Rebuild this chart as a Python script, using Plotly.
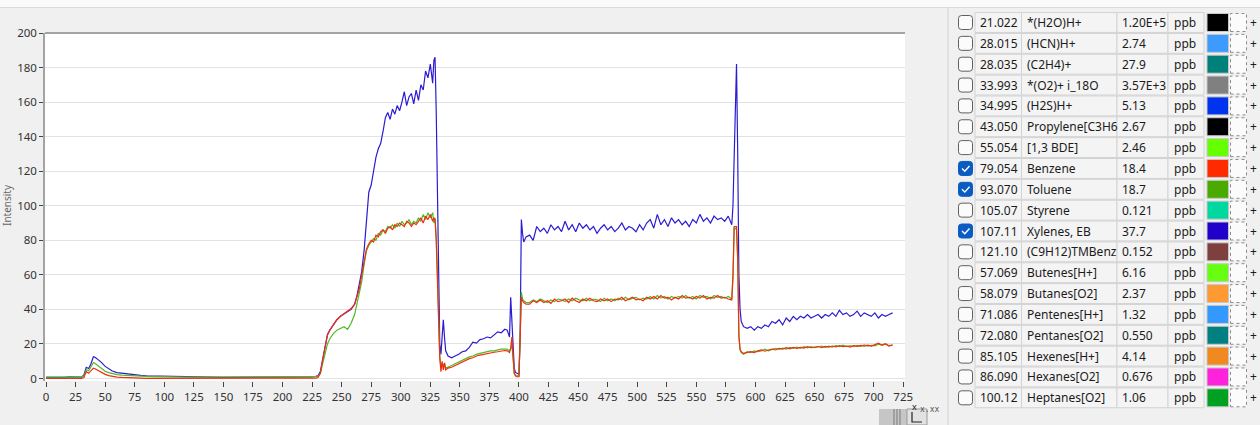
import plotly.graph_objects as go

W, H = 1260, 425
FONT = "Noto Sans"

# ---- trace data ----
time_s = [
    0, 5, 10, 15, 20, 25, 30, 32, 33, 34, 36, 38, 40, 41, 43, 45, 47, 50, 53, 56,
    60, 64, 68, 72, 76, 80, 85, 90, 95, 100, 105, 110, 120, 130, 140, 150, 160, 170,
    180, 190, 200, 205, 210, 215, 220, 225,
    228, 230, 232, 234, 236, 238, 240, 243, 246, 249, 252, 255, 258, 261,
    263, 265, 267, 269, 271, 273, 275, 277, 279, 281, 283, 285, 287, 289, 291, 293,
    295, 297, 299, 301, 303, 305, 307, 309, 311, 313, 315, 317, 319, 321, 323, 325,
    327, 328, 329, 330, 331, 332,
    333, 334, 335, 336, 337, 338, 340, 343, 346, 349, 352, 355, 358, 361, 364, 367,
    370, 373, 376, 379, 382, 385, 388, 390, 392, 393, 394, 395, 396, 397, 398, 400,
    401, 402, 403, 404, 406,
    409, 412, 415, 418, 421, 424, 427, 430, 433, 436, 439, 442, 445, 448, 451, 454,
    457, 460, 463, 466, 469, 472, 475, 478, 481, 484, 487, 490, 493, 496, 499, 502,
    505, 508, 511, 514, 517, 520, 523, 526, 529, 532, 535, 538, 541, 544, 547, 550,
    553, 556, 559, 562, 565, 568, 571, 574, 577, 580,
    581, 582, 583, 584, 585, 586, 587, 588, 590,
    593, 596, 599, 602, 605, 608, 611, 614, 617, 620, 623, 626, 629, 632, 635, 638,
    641, 644, 647, 650, 653, 656, 659, 662, 665, 668, 671, 674, 677, 680, 683, 686,
    689, 692, 695, 698, 701, 704, 707, 710, 713, 716,
]

xylenes_ppb = [
    0.6, 0.5, 0.7, 0.6, 0.9, 0.7, 0.8,
    2.0, 4.8, 6.5, 5.8, 8.5,
    12.6, 12.4, 11.5, 10.6, 9.2,
    7.0, 5.6, 4.3,
    3.4, 3.0, 2.6, 2.3, 2.0,
    1.8, 1.6, 1.5, 1.3,
    1.3, 1.1, 1.0,
    0.9, 0.8, 0.8, 0.7, 0.7, 0.7, 0.7, 0.8,
    0.9, 0.8, 1.0, 0.9, 1.1, 0.9,
    1.2, 1.6, 4.0, 12.0, 20.0, 25.5, 28.0,
    31.0, 34.0, 36.0, 37.5, 38.5, 40.0, 43.0,
    48, 55, 62, 74, 92, 108, 112, 121, 128, 133, 136, 143, 151, 154, 150, 156, 153,
    158, 155, 160, 166, 158, 163, 165, 159, 167, 161, 170, 167, 178, 174, 182, 171,
    184, 186, 155, 110, 42,
    20, 14, 22, 34, 24, 16, 13,
    12, 13, 14, 15.5, 16, 18, 21, 20.5, 22.5, 23, 24, 23.5, 25.5, 27, 26.5, 28.5,
    28, 24, 47, 30, 22, 6, 3.5, 3,
    2.5, 25, 92, 84, 79, 82,
    83, 80, 88, 85, 87, 84, 89, 86, 88, 85,
    91, 86, 89, 85, 90, 87, 89, 86, 88, 84,
    87, 89, 86, 88, 85, 87, 90, 86, 88, 87,
    85, 89, 86, 90, 92, 87, 95, 89, 92, 88,
    93, 90, 92, 89, 91, 88, 92, 90, 95, 91,
    93, 90, 94, 92, 93, 91, 94, 89,
    100, 128, 160, 182, 130, 60, 40, 33, 30,
    29, 30, 28, 30, 29, 31, 30, 33, 32, 34,
    31, 35, 33, 36, 34, 36, 35, 37, 35, 36,
    37, 35, 37, 36, 38, 36, 39.5, 37, 38, 36,
    37, 39, 36, 38, 37, 36, 38, 35, 37, 36,
    37, 38,
]

toluene_ppb = [
    0.8, 0.7, 0.9, 0.8, 0.8, 0.9, 0.8,
    1.5, 3.5, 5.0, 4.5, 6.5,
    9.2, 9.0, 8.0, 6.8, 5.8,
    4.2, 3.4, 2.7,
    2.2, 1.9, 1.7, 1.5, 1.4,
    1.3, 1.2, 1.1, 1.0,
    1.0, 0.9, 0.9,
    0.8, 0.8, 0.8, 0.8, 0.8, 0.8, 0.8, 0.9,
    1.0, 1.0, 1.1, 1.0, 1.2, 1.1,
    1.0, 1.2, 3.0, 8.5, 15.0, 20.0, 23.0,
    26.0, 28.0, 29.0, 30.0, 28.5, 32.0, 37.0,
    44, 50, 56, 66, 74, 77, 79, 81, 80, 84, 83, 86, 85, 88, 87, 89, 87,
    90, 88, 91, 89, 90, 92, 89, 91, 90, 93, 91, 95, 92, 96, 93, 96,
    90, 93, 82, 60, 35,
    13, 6, 9, 7, 9, 6, 6.5,
    7.5, 8.5, 9.5, 10.5, 11.5, 12.5, 13, 14, 14.5, 15, 15.5, 16, 16, 16.5, 17, 17,
    17, 16, 17, 20, 12, 3, 2, 1.5,
    1.5, 28, 50, 46, 45, 44,
    44, 45.5, 44.5, 46, 45, 44, 45.5, 44.5, 46, 45.5,
    44.5, 46, 45, 46.5, 45.5, 45, 46.5, 45, 46, 45.5,
    44.5, 46.5, 45, 46, 45, 46.5, 45.5, 47, 45.5, 46.5,
    47, 45.5, 46.5, 46, 47.5, 46, 48, 46.5, 47.5, 46,
    47.5, 46.5, 47.5, 46.5, 48, 46.5, 47.5, 46, 48, 47,
    47.5, 46, 48, 47, 47.5, 46.5, 47.5, 46,
    58, 87, 87, 86, 68, 24, 16.5, 15, 14,
    15.5, 15, 16, 15.5, 16, 17, 16, 16.8, 17.5, 16.8,
    17.6, 17, 18, 17.4, 18.2, 17.6, 18.4, 17.8, 18.5, 17.9,
    18.2, 18.8, 18, 18.7, 18.2, 19, 18.4, 19.3, 18.5, 19,
    18.4, 19.2, 18.6, 19.4, 18.8, 19.2, 18.9, 19.8, 19.5, 20.2,
    19, 19.5,
]

benzene_ppb = [
    0.0, 0.0, 0.1, 0.0, 0.1, 0.0, 0.1,
    0.5, 2.5, 4.0, 3.0, 4.8,
    6.0, 5.8, 5.0, 4.2, 3.4,
    2.4, 1.7, 1.2,
    0.8, 0.6, 0.4, 0.3, 0.2,
    0.2, 0.1, 0.1, 0.1,
    0.1, 0.0, 0.0,
    0.0, 0.0, 0.0, 0.0, 0.0, 0.0, 0.0, 0.0,
    0.0, 0.0, 0.0, 0.1, 0.1, 0.1,
    0.2, 0.6, 3.0, 11.0, 19.0, 25.0, 28.0,
    31.0, 34.0, 36.0, 37.5, 39.0, 40.5, 43.0,
    47, 52, 60, 68, 75, 78, 80, 79, 83, 82, 85, 86, 84, 87, 88, 86, 89,
    88, 90, 89, 88, 91, 90, 88, 90, 89, 91, 93, 90, 94, 92, 95, 91,
    93, 92, 80, 58, 33,
    12, 4, 10, 5, 9, 5, 6,
    6.5, 7.5, 8.5, 9.5, 10.5, 11.5, 12, 13, 13.5, 14, 14.5, 15, 15.2, 15.5, 16, 16.2,
    16, 15, 18, 24, 13, 3, 1.5, 1,
    1, 26, 47, 45, 44, 43,
    43, 45, 44, 45.5, 44, 45, 43.5, 46, 44.5, 45,
    46, 44, 46.5, 45, 44, 46, 45, 46.5, 45, 44.5,
    46, 45, 46, 44.5, 46, 45.5, 47, 45, 46, 47,
    45.5, 46, 45, 47, 46, 47.5, 46, 48, 46.5, 47,
    45.5, 47, 46, 48, 46.5, 47, 46, 47.5, 46.5, 48,
    46, 47, 46.5, 48, 46.5, 47, 46, 45.5,
    60, 88, 88, 88, 70, 25, 17, 15.5, 14.5,
    15, 15.5, 15, 16, 16.5, 15.8, 16.5, 17, 16.5, 17.5,
    17, 17.8, 17.2, 18, 17.5, 18, 17.6, 18.4, 17.8, 18.2,
    18.5, 17.9, 18.6, 18.2, 18.8, 18.3, 19, 18.5, 18.8, 18.2,
    19, 18.6, 19.2, 18.7, 19.3, 18.8, 19.5, 20.5, 19.2, 20,
    18.8, 19.4,
]

for series in (xylenes_ppb, toluene_ppb, benzene_ppb):
    assert len(series) == len(time_s), (len(series), len(time_s))

# ---- compound table (right panel) ----
masses = ["21.022", "28.015", "28.035", "33.993", "34.995", "43.050", "55.054",
          "79.054", "93.070", "105.07", "107.11", "121.10", "57.069", "58.079",
          "71.086", "72.080", "85.105", "86.090", "100.12"]
names = ["*(H2O)H+", "(HCN)H+", "(C2H4)+", "*(O2)+ i_18O", "(H2S)H+", "Propylene[C3H6",
         "[1,3 BDE]", "Benzene", "Toluene", "Styrene", "Xylenes, EB", "(C9H12)TMBenz",
         "Butenes[H+]", "Butanes[O2]", "Pentenes[H+]", "Pentanes[O2]", "Hexenes[H+]",
         "Hexanes[O2]", "Heptanes[O2]"]
conc = ["1.20E+5", "2.74", "27.9", "3.57E+3", "5.13", "2.67", "2.46", "18.4", "18.7",
        "0.121", "37.7", "0.152", "6.16", "2.37", "1.32", "0.550", "4.14", "0.676", "1.06"]
units = ["ppb"] * 19
checked = [False, False, False, False, False, False, False, True, True, False, True,
           False, False, False, False, False, False, False, False]
swatches = ["#000000", "#3d9bff", "#00807a", "#808080", "#0033ee", "#000000", "#66ff00",
            "#ff2a00", "#4aaa00", "#00d8a0", "#2200cc", "#7f3f3f", "#66ff11", "#ff9933",
            "#3399ff", "#008080", "#f08a20", "#ff22dd", "#00a020"]


def px(x):
    return x / W


def py(y):
    return 1 - y / H


def rounded_box(x0, y0, x1, y1, r):
    return (f"M{px(x0 + r)},{py(y0)} L{px(x1 - r)},{py(y0)} Q{px(x1)},{py(y0)} {px(x1)},{py(y0 + r)} "
            f"L{px(x1)},{py(y1 - r)} Q{px(x1)},{py(y1)} {px(x1 - r)},{py(y1)} "
            f"L{px(x0 + r)},{py(y1)} Q{px(x0)},{py(y1)} {px(x0)},{py(y1 - r)} "
            f"L{px(x0)},{py(y0 + r)} Q{px(x0)},{py(y0)} {px(x0 + r)},{py(y0)} Z")


fig = go.Figure()
fig.add_trace(go.Scatter(x=time_s, y=xylenes_ppb, mode="lines", name="Xylenes, EB",
                         line=dict(color="#2b1bd1", width=1.2)))
fig.add_trace(go.Scatter(x=time_s, y=toluene_ppb, mode="lines", name="Toluene",
                         line=dict(color="#4dbb22", width=1.2)))
fig.add_trace(go.Scatter(x=time_s, y=benzene_ppb, mode="lines", name="Benzene",
                         line=dict(color="#f42c10", width=1.2)))

shapes = []
annotations = []

# window chrome
shapes.append(dict(type="rect", xref="paper", yref="paper", x0=0, x1=1, y0=py(7), y1=1,
                   fillcolor="#fafafa", line=dict(width=0), layer="below"))
shapes.append(dict(type="line", xref="paper", yref="paper", x0=0, x1=1, y0=py(7.5), y1=py(7.5),
                   line=dict(color="#dadada", width=1)))
shapes.append(dict(type="line", xref="paper", yref="paper", x0=px(45), x1=px(905),
                   y0=py(33), y1=py(33), line=dict(color="#a3a3a3", width=2)))
shapes.append(dict(type="line", xref="paper", yref="paper", x0=px(948), x1=px(948),
                   y0=py(8), y1=0, line=dict(color="#d2d2d2", width=1)))

# small toolbar bits bottom-right of the plot
shapes.append(dict(type="rect", xref="paper", yref="paper", x0=px(879), x1=px(907),
                   y0=py(425), y1=py(409), fillcolor="#c6c6c6", line=dict(width=0)))
for lx in (894, 897, 900):
    shapes.append(dict(type="line", xref="paper", yref="paper", x0=px(lx), x1=px(lx),
                       y0=py(425), y1=py(409), line=dict(color="#7a7a7a", width=1)))
shapes.append(dict(type="rect", xref="paper", yref="paper", x0=px(907), x1=px(927),
                   y0=py(425), y1=py(409), fillcolor="#e2e2e2", line=dict(color="#9a9a9a", width=1)))
shapes.append(dict(type="path", xref="paper", yref="paper",
                   path=f"M{px(912)},{py(412)} L{px(912)},{py(422)} L{px(922)},{py(422)}",
                   line=dict(color="#222", width=1.2)))
annotations.append(dict(x=px(919), y=py(415), xref="paper", yref="paper", text="x",
                        showarrow=False, font=dict(family=FONT, size=9, color="#222")))
annotations.append(dict(x=px(941), y=py(416), xref="paper", yref="paper", text="x.xx",
                        showarrow=False, font=dict(family="DejaVu Sans Mono", size=8, color="#555")))

# y-axis title (only a sliver is visible in the original window)
annotations.append(dict(x=px(7), y=py(205), xref="paper", yref="paper", text="Intensity",
                        textangle=-90, showarrow=False, xanchor="center", yanchor="middle",
                        font=dict(family=FONT, size=10, color="#666")))

# table rows
ROW0, ROWH = 22.5, 20.85
cells = [(975, 1021.5), (1021.5, 1117), (1117, 1168), (1168, 1204)]
for i in range(len(masses)):
    cy = ROW0 + i * ROWH
    top, bot = cy - ROWH / 2 + 0.5, cy + ROWH / 2 - 0.5
    for x0, x1 in cells:
        shapes.append(dict(type="rect", xref="paper", yref="paper", x0=px(x0), x1=px(x1),
                           y0=py(bot), y1=py(top), fillcolor="#f4f4f4",
                           line=dict(color="#d3d3d3", width=1)))
    # checkbox
    if checked[i]:
        shapes.append(dict(type="path", xref="paper", yref="paper",
                           path=rounded_box(958.5, cy - 7, 972.5, cy + 7, 3),
                           fillcolor="#0a5cc2", line=dict(color="#0a5cc2", width=1)))
        shapes.append(dict(type="path", xref="paper", yref="paper",
                           path=f"M{px(962)},{py(cy)} L{px(964.8)},{py(cy + 2.8)} L{px(969.5)},{py(cy - 2.5)}",
                           line=dict(color="white", width=1.4)))
    else:
        shapes.append(dict(type="path", xref="paper", yref="paper",
                           path=rounded_box(958.5, cy - 7, 972.5, cy + 7, 3),
                           fillcolor="#fbfbfb", line=dict(color="#5f5f5f", width=1)))
    # colour swatch + dotted marker box
    shapes.append(dict(type="rect", xref="paper", yref="paper", x0=px(1207), x1=px(1228.5),
                       y0=py(cy + 9), y1=py(cy - 9), fillcolor=swatches[i],
                       line=dict(color="#c8c8c8", width=1)))
    shapes.append(dict(type="rect", xref="paper", yref="paper", x0=px(1230.5), x1=px(1246.5),
                       y0=py(cy + 9), y1=py(cy - 9), fillcolor="#fbfbfb",
                       line=dict(color="#8a8a8a", width=1, dash="dot")))
    for text, x in ((masses[i], 978), (names[i], 1024.5), (conc[i], 1119.5), (units[i], 1172)):
        annotations.append(dict(x=px(x), y=py(cy), xref="paper", yref="paper", text=text,
                                showarrow=False, xanchor="left", yanchor="middle",
                                font=dict(family=FONT, size=12, color="#1b1b1b")))
    annotations.append(dict(x=px(1248), y=py(cy), xref="paper", yref="paper", text="+",
                            showarrow=False, xanchor="left", yanchor="middle",
                            font=dict(family=FONT, size=12, color="#1b1b1b")))

fig.update_layout(
    width=W,
    height=H,
    margin=dict(l=0, r=0, t=0, b=0, autoexpand=False),
    paper_bgcolor="#f0f0f0",
    plot_bgcolor="white",
    showlegend=False,
    xaxis=dict(
        domain=[px(45), px(905)],
        range=[-0.9, 726.5],
        tick0=0,
        dtick=25,
        ticks="outside",
        ticklen=5,
        tickcolor="#444",
        showgrid=False,
        zeroline=False,
        showline=False,
        automargin=False,
        tickfont=dict(family=FONT, size=11.5, color="#333"),
    ),
    yaxis=dict(
        domain=[py(381), py(32.5)],
        range=[-1.45, 200.3],
        tick0=0,
        dtick=20,
        ticks="outside",
        ticklen=4,
        tickcolor="#444",
        showgrid=True,
        gridcolor="#e2e2e2",
        zeroline=False,
        showline=True,
        linecolor="#a3a3a3",
        linewidth=1.5,
        automargin=False,
        tickfont=dict(family=FONT, size=11.5, color="#333"),
    ),
    shapes=shapes,
    annotations=annotations,
)

# the page body keeps the browser's default 8px margin; drop it so the figure sits at (0, 0)
fig.write_html(
    "out.html",
    config={"displayModeBar": False},
    post_script="document.body.style.margin = '0px';",
)
